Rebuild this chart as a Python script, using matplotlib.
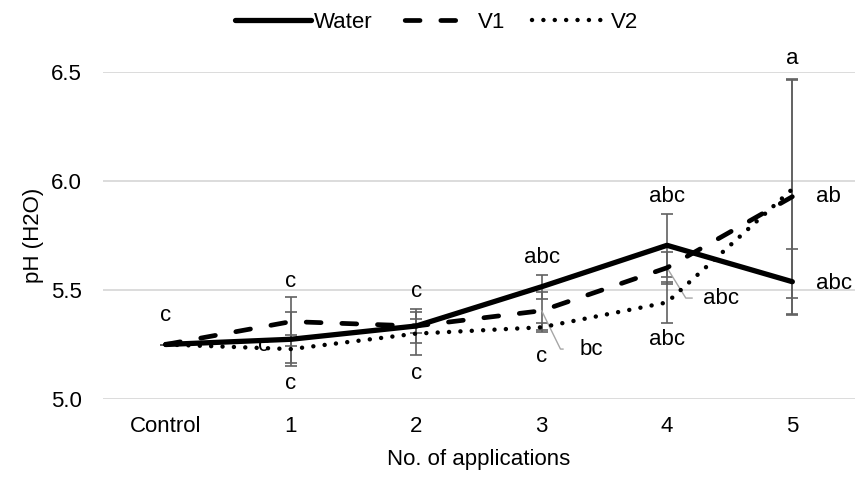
import matplotlib
matplotlib.use("Agg")
import matplotlib.pyplot as plt
import numpy as np

plt.rcParams['font.family'] = ['Liberation Sans', 'DejaVu Sans']

categories = ["Control", "1", "2", "3", "4", "5"]
water = [5.25, 5.274, 5.335, 5.515, 5.705, 5.538]
v1 = [5.25, 5.355, 5.335, 5.405, 5.602, 5.928]
v2 = [5.25, 5.229, 5.30, 5.329, 5.443, 5.963]
water_err = [0.0, 0.123, 0.08, 0.055, 0.145, 0.152]
v1_err = [0.0, 0.114, 0.03, 0.088, 0.074, 0.54]
v2_err = [0.0, 0.065, 0.10, 0.02, 0.095, 0.50]

# significance letters: (x position in category units, y value, text)
letter_x = [0, 1, 1, 0.78, 2, 2, 3, 3, 4, 4, 5]
letter_y = [5.385, 5.537, 5.069, 5.245, 5.491, 5.115, 5.651, 5.193, 5.931, 5.275, 6.564]
letter_t = ["c", "c", "c", "c", "c", "c", "abc", "c", "abc", "abc", "a"]
# labels with leader lines / right side
side_x = [3.40, 4.43, 5.29, 5.33]
side_y = [5.229, 5.463, 5.927, 5.528]
side_t = ["bc", "abc", "ab", "abc"]
leader_from_x = [3.0, 4.0]
leader_from_y = [5.405, 5.602]

fig = plt.figure(figsize=(8.55, 4.79), dpi=100)
ax = fig.add_axes([103/855, 80/479, 752/855, 327/479])

x = np.arange(len(categories))
ecol = "#616161"
for vals, err in [(water, water_err), (v1, v1_err), (v2, v2_err)]:
    ax.errorbar(x, vals, yerr=err, fmt='none', ecolor=ecol, elinewidth=1.2,
                capsize=4.3, capthick=1.2, zorder=2)

ax.plot(x, water, color='black', lw=3.8, solid_capstyle='round', label='Water', zorder=4)
ax.plot(x, v1, color='black', lw=3.4, linestyle=(0, (3.15, 4.4)), dash_capstyle='round',
        label='V1', zorder=4)
ax.plot(x, v2, color='black', lw=3.2, linestyle=(0, (0.01, 2.55)), dash_capstyle='round',
        label='V2', zorder=4)

fs = 16
for lx, ly, lt in zip(letter_x, letter_y, letter_t):
    ax.text(lx, ly, lt, ha='center', va='center', fontsize=fs, color='#000000',
            clip_on=False, zorder=1 if lx == 0.78 else 5)

for sx, sy, st in zip(side_x, side_y, side_t):
    ax.text(sx, sy, st, ha='center', va='center', fontsize=fs, clip_on=False, zorder=5)

# leader lines
for fx, fy, sx, sy in zip(leader_from_x, leader_from_y, side_x[:2], side_y[:2]):
    ax.plot([fx, fx + 0.15, sx - 0.23], [fy, sy, sy], color='#a6a6a6', lw=1.0, zorder=3)

ax.set_xlim(-0.5, 5.5)
ax.set_ylim(5.0, 6.5)
ax.set_yticks([5.0, 5.5, 6.0, 6.5])
ax.set_yticklabels(["5.0", "5.5", "6.0", "6.5"])
ax.set_xticks(x)
ax.set_xticklabels(categories)
ax.tick_params(axis='both', length=0, labelsize=fs, colors='#000000')
ax.tick_params(axis='y', pad=15.5)
ax.tick_params(axis='x', pad=12)
ax.grid(axis='y', color='#d9d9d9', lw=1.3)
ax.set_axisbelow(True)
for s in ax.spines.values():
    s.set_visible(False)

ax.set_xlabel("No. of applications", fontsize=fs)
ax.xaxis.set_label_coords(0.5, -(459 - 399) / 327)
ax.xaxis.label.set_va('center')
ax.set_ylabel("pH (H2O)", fontsize=fs)
ax.yaxis.set_label_coords(-(103 - 34) / 752, 0.5)
ax.yaxis.label.set_va('center')

leg = fig.legend(loc='center', bbox_to_anchor=(0.511, 0.954), ncol=3, frameon=False,
                 fontsize=fs, handlelength=3.4, handletextpad=0.15, columnspacing=1.2,
                 borderpad=0)
leg.get_lines()[1].set_linestyle((6.35, (3.15, 4.4)))

fig.savefig("out.png", dpi=100)
